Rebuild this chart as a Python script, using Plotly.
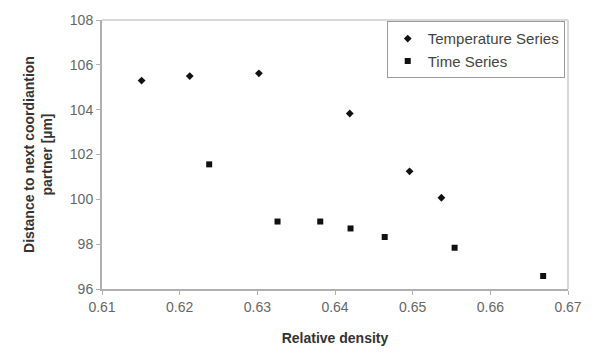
import plotly.graph_objects as go

temp_x = [0.6151, 0.6213, 0.6302, 0.6419, 0.6496, 0.6537]
temp_y = [105.30, 105.50, 105.62, 103.83, 101.25, 100.07]
time_x = [0.6238, 0.6326, 0.6381, 0.6420, 0.6464, 0.6554, 0.6668]
time_y = [101.56, 99.01, 99.01, 98.70, 98.32, 97.84, 96.58]
x_ticks = [0.61, 0.62, 0.63, 0.64, 0.65, 0.66, 0.67]
y_ticks = [96, 98, 100, 102, 104, 106, 108]

FONT = "Liberation Sans, Arial"

fig = go.Figure()
fig.add_trace(go.Scatter(x=temp_x, y=temp_y, mode="markers", name="Temperature Series",
                         marker=dict(symbol="diamond", size=6, color="#111111")))
fig.add_trace(go.Scatter(x=time_x, y=time_y, mode="markers", name="Time Series",
                         marker=dict(symbol="square", size=6, color="#111111")))

axis_common = dict(showgrid=False, zeroline=False, showline=True, linecolor="#b0b0b0", linewidth=2,
                   ticks="outside", ticklen=4, tickcolor="#b0b0b0", mirror=False,
                   tickfont=dict(family=FONT, size=14, color="#666666"))
fig.update_xaxes(range=[0.61, 0.67], tickvals=x_ticks, ticktext=[f"{v:.2f}" for v in x_ticks],
                 title=dict(text="<b>Relative density</b>", font=dict(family=FONT, size=14, color="#333333"), standoff=19),
                 **axis_common)
fig.update_yaxes(range=[96, 108], tickvals=y_ticks,
                 title=dict(text="<b>Distance to next coordiantion<br>partner [µm]</b>", font=dict(family=FONT, size=14, color="#333333"), standoff=14),
                 **axis_common)

fig.add_shape(type="line", xref="paper", yref="paper", x0=0, x1=1, y0=1, y1=1, line=dict(color="#d8d8d8", width=2))
fig.add_shape(type="line", xref="paper", yref="paper", x0=1, x1=1, y0=0, y1=1, line=dict(color="#d8d8d8", width=2))

fig.update_layout(
    width=594, height=356, margin=dict(l=102, r=22, t=16, b=66),
    paper_bgcolor="white", plot_bgcolor="white",
    font=dict(family=FONT, color="#333333"),
    legend=dict(x=0.993, y=0.995, xanchor="right", yanchor="top", bgcolor="white",
                bordercolor="#999999", borderwidth=1,
                font=dict(family=FONT, size=15, color="#444444"),
                itemwidth=30, tracegroupgap=0),
    showlegend=True,
)
fig.write_html("out.html")
